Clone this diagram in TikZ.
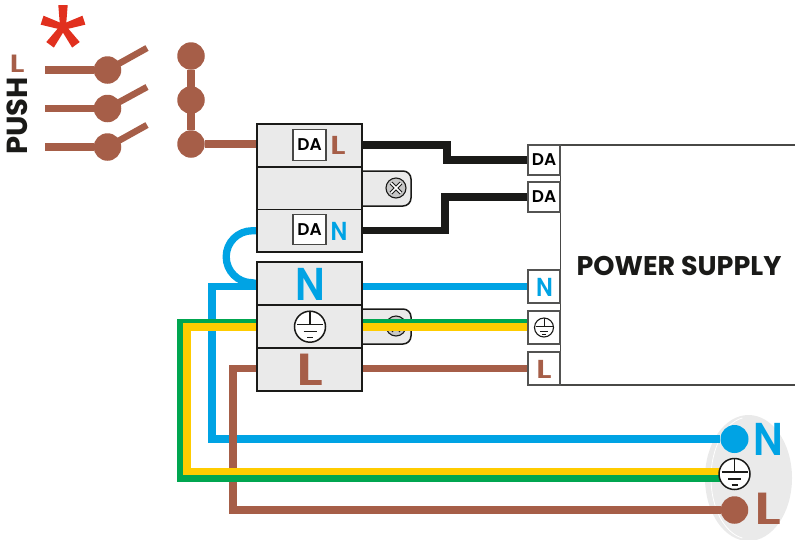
\documentclass[tikz,border=0pt]{standalone}
\usepackage{fontspec}
\usepackage{graphicx}
\setmainfont{Poppins}
\newfontfamily\semi{Poppins SemiBold}
\usetikzlibrary{backgrounds}
\definecolor{brn}{HTML}{A65E48}
\definecolor{blu}{HTML}{00A3E4}
\definecolor{grn}{HTML}{00A650}
\definecolor{ylw}{HTML}{FFCC00}
\definecolor{blk}{HTML}{1A1A18}
\definecolor{cellg}{HTML}{EAEAEA}
\definecolor{rd}{HTML}{E1301E}
\newcommand{\fs}[1]{\fontsize{#1}{#1}\selectfont\bfseries}
\newcommand{\fm}[1]{\fontsize{#1}{#1}\selectfont\semi}
\newcommand{\wideL}{\scalebox{1.3}[1]{L}}
\newcommand{\slimN}{\scalebox{.88}[1]{N}}
\tikzset{
  x=1pt,y=-1pt,
  cell/.style={draw=blk,line width=1.6pt,fill=cellg,inner sep=0pt,minimum width=105pt},
  term/.style={draw=blk!75,line width=1.1pt,fill=white,inner sep=0pt,minimum width=32pt},
  dabox/.style={draw=blk!80,line width=1.2pt,fill=white,inner sep=0pt,minimum width=33pt,minimum height=30.5pt},
  txt/.style={inner sep=0pt,anchor=base},
  dot/.style={circle,fill=brn,inner sep=0pt,minimum size=27.5pt},
  bluedot/.style={circle,fill=blu,inner sep=0pt,minimum size=28pt},
  wire/.style={line width=7.3pt,line cap=butt,line join=miter},
  armw/.style={brn,line width=6.5pt},
  tab/.style={draw=blk,line width=1.5pt,fill=cellg,rounded corners=8pt},
  screw/.style={circle,draw=blk,line width=1.1pt,fill=black!22,inner sep=0pt,minimum size=20pt},
  earthring/.style={circle,draw=blk,line width=1.5pt,fill=white,inner sep=0pt},
  pics/earthsym/.style={code={
    \draw[blk,line width=1.4pt] (0,-15.5)--(0,-2) (-13,-2)--(13,-2) (-6.5,5)--(6.5,5) (-3,11)--(3,11);
  }},
  pics/earthsmall/.style={code={
    \draw[blk,line width=1pt] (0,-9.5)--(0,-1) (-8.5,-1)--(8.5,-1) (-4,3.5)--(4,3.5) (-1.8,7)--(1.8,7);
  }},
  pics/screwx/.style={code={
    \draw[blk,line width=3.6pt] (-5,-5)--(5,5) (-5,5)--(5,-5);
    \draw[white,line width=1.5pt] (-5,-5)--(5,5) (-5,5)--(5,-5);
  }}
}
\begin{document}
\begin{tikzpicture}
\useasboundingbox (0,0) rectangle (795,539);
% top block
\node[cell,minimum height=43pt] (daL) at (309.5,145.5) {};
\node[cell,minimum height=42.5pt] (mid) at (309.5,188.25) {};
\node[cell,minimum height=42.5pt] (daN) at (309.5,230.75) {};
\node[dabox] (daLbox) at (309.5,145) {\fm{17}DA};
\node[dabox] (daNbox) at (309.5,229.5) {\fm{17}DA};
\node[txt,text=brn] (daLt) at (338,154) {\fm{26}\wideL};
\node[txt,text=blu] (daNt) at (339,240) {\fm{26}\slimN};
% bottom block
\node[cell,minimum height=43pt] (Nb) at (309.5,283.5) {};
\node[cell,minimum height=43pt] (Eb) at (309.5,326.5) {};
\node[cell,minimum height=43pt] (Lb) at (309.5,369.5) {};
\node[txt,text=blu] (Nbt) at (310,300) {\fm{46}\slimN};
\node[txt,text=brn] (Lbt) at (309.5,385) {\fm{45}\wideL};
\node[earthring,minimum size=31pt] (Ebs) at (310,326.7) {};
\pic at (Ebs) {earthsym};
% power supply
\node[draw=blk!80,line width=1.2pt,fill=white,inner sep=0pt,minimum width=260pt,minimum height=240pt] (psu) at (690.5,265) {};
\node[txt,text=blk] (psut) at (679,275) {\fs{27}POWER SUPPLY};
\node[term,minimum height=30pt] (t1) at (544,160) {\fm{17}DA};
\node[term,minimum height=30pt] (t2) at (544,197) {\fm{17}DA};
\node[term,minimum height=33pt] (t3) at (544,286.5) {};
\node[txt,text=blu] (t3t) at (544.5,296) {\fm{26}\slimN};
\node[term,minimum height=33pt] (t4) at (544,327.5) {};
\node[earthring,minimum size=19pt,line width=1.1pt] (t4s) at (544,327.5) {};
\pic at (t4s) {earthsmall};
\node[term,minimum height=33pt] (t5) at (544,368.5) {};
\node[txt,text=brn] (t5t) at (544,378) {\fm{26}\wideL};
% end points
\node[bluedot] (endN) at (734.5,439) {};
\node[earthring,minimum size=31pt] (endE) at (734.5,474) {};
\pic at (endE) {earthsym};
\node[dot] (endL) at (734.5,510) {};
\node[txt,text=blu] (endNt) at (768,455) {\fm{46}\slimN};
\node[txt,text=brn] (endLt) at (768,524) {\fm{45}\wideL};
% switches
\node[dot] (s1) at (107.5,70) {};
\node[dot] (s2) at (107.5,108.5) {};
\node[dot] (s3) at (107.5,147) {};
\node[dot] (b1) at (191,56) {};
\node[dot] (b2) at (191,100) {};
\node[dot] (b3) at (191,144) {};
\coordinate (i1) at (45,70);
\coordinate (i2) at (45,108.5);
\coordinate (i3) at (45,147);
\coordinate (a1) at (147,48);
\coordinate (a2) at (147,87);
\coordinate (a3) at (147,125);
\node[txt,text=blk,rotate=90,anchor=base] (push) at (27.5,116) {\fs{29}PUSH};
\node[txt,text=brn] (ltop) at (17,72) {\fm{25}\wideL};
% asterisk
\foreach \a in {0,72,144,216,288}
  \fill[rd,shift={(63,27)},rotate=\a] (-2.8,2) -- (-4.7,-22) -- (4.7,-22) -- (2.8,2) -- cycle;
\begin{pgfonlayer}{background}
\fill[cellg] (748.5,478) ellipse [x radius=43.5,y radius=63];
\draw[white,line width=.8pt] (711,478) arc[start angle=180,end angle=100,x radius=38,y radius=61];
\draw[white,line width=.8pt] (711,478) arc[start angle=180,end angle=260,x radius=38,y radius=61];
\draw[tab] (362,171) -- (411,171) -- (411,206) -- (362,206);
\draw[tab] (362,309) -- (411,309) -- (411,344) -- (362,344);
\node[screw] (sc1) at (396,188) {};
\pic at (sc1) {screwx};
\node[screw] (sc2) at (396,326) {};
\pic at (sc2) {screwx};
% wiring
\coordinate (bcorner) at (212,439);
\coordinate (lcorner) at (233,510);
\coordinate (gcorner) at (180.5,478.3);
\coordinate (ycorner) at (187,471.5);
\coordinate (bk1) at (447,145);
\coordinate (bk2) at (445,230.7);
\draw[wire,blu] (Nb.west |- t3) -| (bcorner) -- (endN);
\draw[wire,blu] (Nb.east |- t3) -- (t3.west);
\draw[wire,blu] (daN.west) -- ++(-4,0) arc[start angle=-90,end angle=-270,radius=26] -- (Nb.west);
\draw[wire,brn] (Lb.west |- t5) -| (lcorner) -- (endL);
\draw[wire,brn] (Lb.east |- t5) -- (t5.west);
\draw[wire,grn,line width=6.8pt] ([yshift=4.8pt]Eb.west |- t4) -| (gcorner) -- (gcorner -| endE);
\draw[wire,ylw] ([yshift=0.5pt]Eb.west |- t4) -| (ycorner) -- (ycorner -| endE);
\draw[wire,grn,line width=6.8pt] ([yshift=4.8pt]Eb.east |- t4) -- ([yshift=4.8pt]t4.west);
\draw[wire,ylw] ([yshift=0.5pt]Eb.east |- t4) -- ([yshift=0.5pt]t4.west);
\draw[wire,blk] (daL.east) ++(0,-.5) -| (bk1) |- (t1.west);
\draw[wire,blk] (daN.east) -| (bk2) |- (t2.west);
\draw[wire,brn] (i1) -- (s1);
\draw[wire,brn] (i2) -- (s2);
\draw[wire,brn] (i3) -- (s3);
\draw[armw] (s1.center) -- (a1);
\draw[armw] (s2.center) -- (a2);
\draw[armw] (s3.center) -- (a3);
\draw[wire,brn] (b1) -- (b3);
\draw[wire,brn] (b3) -- (b3 -| daL.west);
\end{pgfonlayer}
\end{tikzpicture}
\end{document}
